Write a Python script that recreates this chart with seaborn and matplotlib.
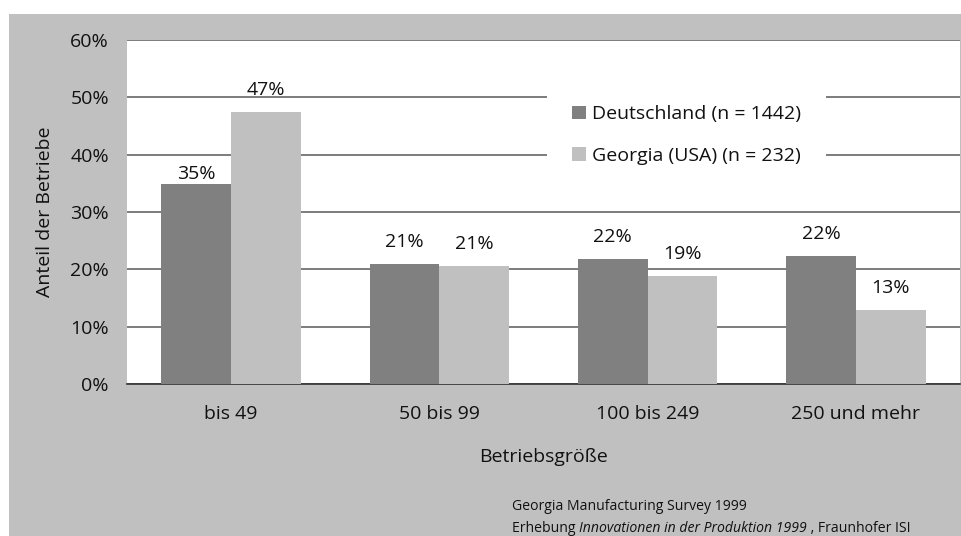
import pandas as pd
import seaborn as sns
from matplotlib import pyplot as plt
from matplotlib.patches import Rectangle, Patch

# data
groessen = ["bis 49", "50 bis 99", "100 bis 249", "250 und mehr"]
deutschland = [0.349, 0.209, 0.218, 0.223]
georgia = [0.474, 0.206, 0.188, 0.129]
serien = ["Deutschland (n = 1442)", "Georgia (USA) (n = 232)"]
labels_de = ["35%", "21%", "22%", "22%"]
labels_ga = ["47%", "21%", "19%", "13%"]
yticks = [0, 0.1, 0.2, 0.3, 0.4, 0.5, 0.6]
ytick_labels = ["0%", "10%", "20%", "30%", "40%", "50%", "60%"]

df = pd.DataFrame({
    "Betriebsgröße": groessen * 2,
    "Anteil": deutschland + georgia,
    "Serie": [serien[0]] * 4 + [serien[1]] * 4,
})

sns.set_style("white")
plt.rcParams['font.family'] = ['Open Sans', 'DejaVu Sans']
fs = 14

W, H = 962, 536
fig = plt.figure(figsize=(W / 100, H / 100), dpi=100)
fig.patch.set_facecolor("white")
# grey panel behind the chart
fig.patches.append(Rectangle((9 / W, 0), (W - 9) / W, (H - 14) / H,
                             transform=fig.transFigure, facecolor="#c0c0c0",
                             edgecolor="none", zorder=-10))

ax = fig.add_axes([127 / W, (H - 384) / H, (960 - 127) / W, (384 - 40) / H])
ax.set_facecolor("white")

farben = {serien[0]: "#808080", serien[1]: "#c0c0c0"}
sns.barplot(data=df, x="Betriebsgröße", y="Anteil", hue="Serie", palette=farben,
            width=0.67, gap=0, saturation=1, ax=ax, legend=False, zorder=3,
            edgecolor="none", linewidth=0)

ax.set_ylim(0, 0.6)
ax.set_xlim(-0.5, 3.5)
ax.set_yticks(yticks)
ax.set_yticklabels(ytick_labels, fontsize=fs, color="#111111")
ax.tick_params(axis="y", length=3, width=1, color="#666666", pad=10)
ax.tick_params(axis="x", length=0, pad=15, labelsize=fs, labelcolor="#111111")
ax.yaxis.grid(True, color="#666666", linewidth=1.2, zorder=0)
ax.set_axisbelow(True)
for s in ["top", "right", "left"]:
    ax.spines[s].set_visible(False)
ax.spines["bottom"].set_color("#333333")
ax.spines["bottom"].set_linewidth(1.2)

ax.set_xlabel("Betriebsgröße", fontsize=fs, labelpad=18, color="#111111")
ax.set_ylabel("Anteil der Betriebe", fontsize=fs, labelpad=12, color="#111111")

texte = []
for cont, labs in zip(ax.containers, [labels_de, labels_ga]):
    texte.append(ax.bar_label(cont, labels=labs, padding=9.5, fontsize=fs,
                              color="#111111"))
# the 35% label sits right on its bar in the original
texte[0][0].xyann = (0, 0.5)

handles = [Patch(facecolor=farben[s], edgecolor="none") for s in serien]
leg = ax.legend(handles, serien, loc="upper left",
                bbox_to_anchor=((547 - 127) / 833, 1 - (80 - 40) / 344),
                frameon=True, facecolor="white", edgecolor="none", framealpha=1,
                fancybox=False, fontsize=fs, handlelength=0.7,
                handleheight=0.7, handletextpad=0.3, labelspacing=1.2,
                borderpad=1.3, borderaxespad=0)
leg.set_zorder(5)
for t in leg.get_texts():
    t.set_color("#111111")

# source lines
fs2 = 10.1
fig.text(512 / W, 1 - 507 / H, "Georgia Manufacturing Survey 1999",
         fontsize=fs2, va="center", ha="left", color="#111111")
fig.canvas.draw()
r = fig.canvas.get_renderer()
x = 512 / W
for teil, stil in [("Erhebung ", "normal"),
                   ("Innovationen in der Produktion 1999", "italic"),
                   (" , Fraunhofer ISI", "normal")]:
    t = fig.text(x, 1 - 528 / H, teil, fontsize=fs2, va="center", ha="left",
                 style=stil, color="#111111")
    bb = t.get_window_extent(renderer=r)
    x += bb.width / W

fig.savefig("out.png", dpi=100)
